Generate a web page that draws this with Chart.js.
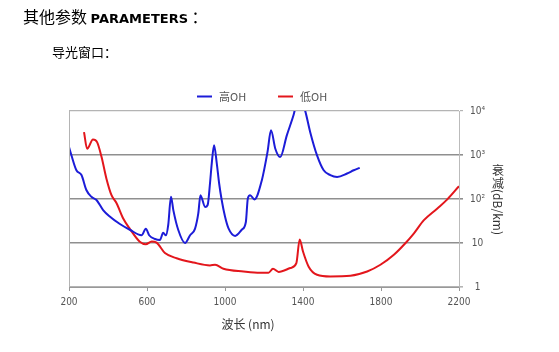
<!DOCTYPE html>
<html>
<head>
<meta charset="utf-8">
<script src="https://cdn.jsdelivr.net/npm/chart.js@4"></script>
<style>
    body { margin: 0; background: #fff; }
    #wrap { position: relative; width: 559px; height: 352px; }
    canvas { position: absolute; left: 0; top: 0; }
    .head { position: absolute; color: #000; white-space: nowrap; font-family: "Noto Sans CJK SC", sans-serif; }
    .head b { font-family: "DejaVu Sans", sans-serif; font-size: 13px; }
</style>
</head>
<body>
<div id="wrap">
    <canvas id="fiberChart" width="559" height="352"></canvas>
    <div class="head" style="left:23px; top:4px; font-size:16px;">其他参数 <b>PARAMETERS</b> ：</div>
    <div class="head" style="left:52px; top:42px; font-size:13px;">导光窗口：</div>
</div>
<script>
// wavelengths (nm) and attenuation (dB/km)
const highOhWavelength = [200, 212, 238, 264, 289, 315, 341, 375, 409, 461, 512, 572, 594, 611, 641, 666, 683, 697, 709, 723, 735, 760, 795, 821, 846, 863, 874, 898, 911, 923, 932, 944, 958, 970, 983, 1000, 1018, 1052, 1086, 1107, 1117, 1129, 1151, 1189, 1218, 1236, 1258, 1283, 1317, 1352, 1368, 1395, 1412, 1437, 1472, 1506, 1540, 1575, 1626, 1660, 1691];
const highOh = [1510, 1000, 450, 350, 160, 112, 95, 56, 40, 27, 20, 15, 21, 15, 12.3, 11.7, 17, 15, 26, 112, 56, 20, 10, 15, 21, 47, 122, 66, 73, 225, 640, 1660, 640, 225, 95, 40, 21.5, 14.5, 20, 30, 103, 122, 98, 268, 1170, 3630, 1390, 900, 2800, 8200, 15000, 16000, 9800, 3300, 980, 450, 350, 318, 380, 450, 510];

const lowOhWavelength = [277, 293, 323, 344, 367, 392, 418, 444, 478, 512, 563, 594, 624, 649, 692, 752, 838, 923, 949, 992, 1095, 1180, 1223, 1246, 1275, 1335, 1366, 1383, 1400, 1429, 1472, 1540, 1643, 1729, 1797, 1866, 1926, 1969, 2020, 2089, 2140, 2200];
const lowOh = [3300, 1390, 2250, 1960, 900, 290, 122, 80, 36, 21, 10.7, 9.4, 10.8, 10.2, 5.9, 4.5, 3.6, 3.1, 3.2, 2.6, 2.25, 2.1, 2.1, 2.6, 2.2, 2.7, 3.5, 12, 6.4, 2.9, 1.9, 1.74, 1.8, 2.25, 3.2, 5.4, 10, 16.6, 33, 61, 98, 195];

const seriesNames = ['高OH', '低OH'];
const yTicks = [1, 10, 100, 1000, 10000];
const yTickLabels = ['1', '10', '10²', '10³', '10⁴'];
const xTicks = [200, 600, 1000, 1400, 1800, 2200];

const tickFont = { family: '"DejaVu Sans Condensed", "Liberation Sans", sans-serif', size: 10 };
const toPoints = (xs, ys) => xs.map((x, i) => ({ x: x, y: ys[i] }));

// draws the legend, axis titles and left border
const decorations = {
    id: 'decorations',
    afterDraw(chart) {
        const ctx = chart.ctx;
        const area = chart.chartArea;
        ctx.save();

        ctx.strokeStyle = '#b4b4b4';
        ctx.lineWidth = 1;
        ctx.beginPath();
        ctx.moveTo(area.left + 0.5, area.top);
        ctx.lineTo(area.left + 0.5, area.bottom);
        ctx.stroke();

        // legend
        ctx.font = '11px "Noto Sans CJK SC", sans-serif';
        ctx.textBaseline = 'middle';
        const legendX = [197, 278];
        chart.data.datasets.forEach((ds, i) => {
            ctx.strokeStyle = ds.borderColor;
            ctx.lineWidth = 2;
            ctx.beginPath();
            ctx.moveTo(legendX[i], 96.5);
            ctx.lineTo(legendX[i] + 15, 96.5);
            ctx.stroke();
            ctx.fillStyle = '#555';
            ctx.fillText(ds.label, legendX[i] + 22, 97);
        });

        // x title
        ctx.fillStyle = '#333';
        ctx.font = '12px "Noto Sans CJK SC", sans-serif';
        ctx.textAlign = 'center';
        ctx.fillText('波长 (nm)', 248, 324);

        // y title: upright hanzi, rotated latin part
        ctx.fillText('衰', 498, 170);
        ctx.fillText('减', 498, 183);
        ctx.translate(498, 212);
        ctx.rotate(Math.PI / 2);
        ctx.fillText('(dB/km)', 0, 0);
        ctx.restore();
    }
};

const ctx = document.getElementById('fiberChart').getContext('2d');
new Chart(ctx, {
    type: 'line',
    data: {
        datasets: [{
            label: seriesNames[0],
            data: toPoints(highOhWavelength, highOh),
            borderColor: '#1c1cd8',
            borderWidth: 2,
            pointRadius: 0,
            cubicInterpolationMode: 'monotone'
        }, {
            label: seriesNames[1],
            data: toPoints(lowOhWavelength, lowOh),
            borderColor: '#e3161c',
            borderWidth: 2,
            pointRadius: 0,
            cubicInterpolationMode: 'monotone'
        }]
    },
    options: {
        responsive: false,
        animation: false,
        layout: { padding: { left: 69, top: 111, right: 0, bottom: 0 } },
        plugins: {
            legend: { display: false },
            tooltip: { enabled: false }
        },
        scales: {
            x: {
                type: 'linear',
                min: 200,
                max: 2200,
                afterBuildTicks: (scale) => { scale.ticks = xTicks.map(v => ({ value: v })); },
                afterFit: (scale) => { scale.height = 65; },
                grid: { drawOnChartArea: false, color: '#999', tickLength: 4 },
                border: { color: '#999' },
                ticks: {
                    padding: 5,
                    color: '#555',
                    font: tickFont,
                    callback: (value) => String(value)
                }
            },
            y: {
                type: 'logarithmic',
                position: 'right',
                min: 1,
                max: 10000,
                afterBuildTicks: (scale) => { scale.ticks = yTicks.map(v => ({ value: v })); },
                afterFit: (scale) => { scale.width = 100; },
                grid: {
                    color: (c) => (c.tick && (c.tick.value === 10000 || c.tick.value === 1)) ? '#b4b4b4' : '#8f8f8f',
                    lineWidth: (c) => (c.tick && c.tick.value === 10000) ? 1.2 : 1.6,
                    tickLength: 4
                },
                border: { color: '#bbb' },
                ticks: {
                    padding: 7,
                    crossAlign: 'center',
                    color: '#555',
                    font: tickFont,
                    callback: (value) => yTickLabels[yTicks.indexOf(value)]
                }
            }
        }
    },
    plugins: [decorations]
});
</script>
</body>
</html>
